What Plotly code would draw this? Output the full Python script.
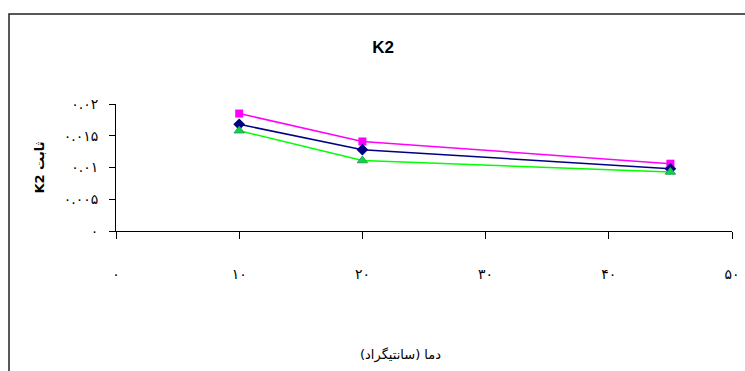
import plotly.graph_objects as go

# Data
temps = [10, 20, 45]
series_navy = [0.0168, 0.0128, 0.0098]
series_magenta = [0.0185, 0.0141, 0.0106]
series_green = [0.0158, 0.0111, 0.0093]

x_tickvals = [0, 10, 20, 30, 40, 50]
x_ticktext = ["۰", "۱۰", "۲۰", "۳۰", "۴۰", "۵۰"]
y_tickvals = [0, 0.005, 0.01, 0.015, 0.02]
y_ticktext = ["۰", "۰.۰۰۵", "۰.۰۱", "۰.۰۱۵", "۰.۰۲"]

title_text = "K2"
x_title = "دما (سانتیگراد)"
y_title = "K2 ثابت"

FONT = "Liberation Sans, Arial, DejaVu Sans, sans-serif"
PFONT = "DejaVu Sans, Liberation Sans, sans-serif"

fig = go.Figure()
fig.add_trace(go.Scatter(
    x=temps, y=series_magenta, mode="lines+markers",
    line=dict(color="#FF00FF", width=1.5),
    marker=dict(symbol="square", size=8, color="#FF00FF"),
    showlegend=False))
fig.add_trace(go.Scatter(
    x=temps, y=series_navy, mode="lines+markers",
    line=dict(color="#000080", width=1.5),
    marker=dict(symbol="diamond", size=9, color="#000080"),
    showlegend=False))
fig.add_trace(go.Scatter(
    x=temps, y=series_green, mode="lines+markers",
    line=dict(color="#00FF00", width=1.5),
    marker=dict(symbol="triangle-up", size=9, color="#00DD33",
                line=dict(color="#339966", width=1)),
    showlegend=False))

L, R, T, B = 116, 13, 104, 140
W, H = 745, 371
pw = W - L - R
ph = H - T - B

fig.update_layout(
    width=W, height=H,
    margin=dict(l=L, r=R, t=T, b=B, autoexpand=False),
    paper_bgcolor="white", plot_bgcolor="white",
    font=dict(family=FONT, size=12, color="black"),
    title=dict(text="<b>" + title_text + "</b>", x=383 / W, xref="container",
               xanchor="center", y=1 - 47 / H, yanchor="middle",
               font=dict(size=17, family=FONT, color="black")),
    xaxis=dict(
        range=[0, 50], tickvals=x_tickvals, ticktext=x_ticktext, automargin=False,
        showgrid=False, zeroline=False, showline=True, linecolor="black", linewidth=1,
        ticks="outside", ticklen=7, tickcolor="black", ticklabelstandoff=23,
        tickfont=dict(size=14, family=PFONT),
    ),
    yaxis=dict(
        range=[0, 0.02], tickvals=y_tickvals, ticktext=y_ticktext, automargin=False,
        showgrid=False, zeroline=False, showline=True, linecolor="black", linewidth=1,
        ticks="outside", ticklen=6, tickcolor="black", ticklabelstandoff=8,
        tickfont=dict(size=14, family=PFONT),
        title=dict(text="<b>" + y_title + "</b>", font=dict(size=13, family=PFONT), standoff=16),
    ),
)

fig.add_annotation(text=x_title, xref="paper", yref="paper",
                   x=(400 - L) / pw, y=-(355 - (H - B)) / ph,
                   xanchor="center", yanchor="middle", showarrow=False,
                   font=dict(size=13, family=PFONT, color="black"))

# Chart frame (outer border)
fig.add_shape(type="rect", xref="paper", yref="paper",
              x0=(9 - L) / pw, x1=1 + 60 / pw,
              y0=-(B + 60) / ph, y1=1 + (T - 14) / ph,
              line=dict(color="#222222", width=1.5), fillcolor="rgba(0,0,0,0)",
              layer="below")

fig.write_html("out.html")
